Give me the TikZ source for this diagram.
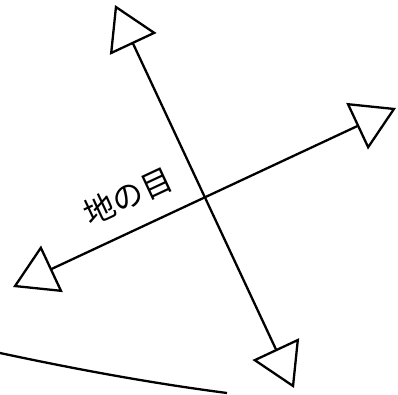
\documentclass[tikz,border=0pt]{standalone}
\usepackage{fontspec}
\newfontfamily\cjk{Noto Sans CJK JP}
\usetikzlibrary{arrows.meta}
\tikzset{
  grain/.style={line width=2.3pt, {Triangle[open,length=43pt,width=51pt]}-{Triangle[open,length=43pt,width=51pt]}},
  curveline/.style={line width=2.3pt},
  lbl/.style={font=\cjk\fontsize{31}{31}\selectfont, inner sep=0pt, rotate=25.05}
}
\begin{document}
\begin{tikzpicture}[x=1pt,y=-1pt]
\useasboundingbox (0,0) rectangle (398,394);
\coordinate (v1) at (115,5);
\coordinate (v2) at (294,388);
\coordinate (h1) at (13,287);
\coordinate (h2) at (396,108);
\coordinate (c1) at (0,353);
\coordinate (c2) at (227,393);
\draw[grain] (v1) -- (v2);
\draw[grain] (h1) -- (h2);
\draw[curveline] (c1) .. controls (75,369) and (150,383) .. (c2);
\node[lbl] (label) at (128,196.5) {地の目};
\end{tikzpicture}
\end{document}
